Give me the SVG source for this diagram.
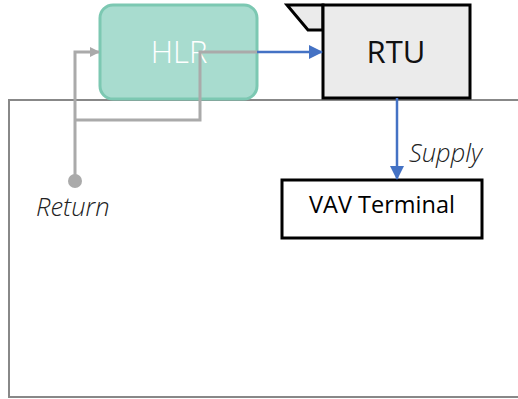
<svg xmlns="http://www.w3.org/2000/svg" width="518" height="399" viewBox="0 0 518 399">
<style>
.t{font-family:"Open Sans","Noto Sans","Liberation Sans",sans-serif}
.g{fill:none;stroke:#aaaaaa;stroke-width:3}
.b{fill:none;stroke:#4472c4;stroke-width:2.5}
.lbl{font-size:25.5px;font-style:italic;font-weight:300;fill:#222}
</style>
<defs>
<marker id="ag" markerWidth="10" markerHeight="10" refX="9" refY="5" orient="auto" markerUnits="userSpaceOnUse"><path d="M0,0 L10,5 L0,10 z" fill="#aaaaaa"/></marker>
<marker id="ab" markerWidth="14" markerHeight="14" refX="13" refY="7" orient="auto" markerUnits="userSpaceOnUse"><path d="M0,0 L14,7 L0,14 z" fill="#4472c4"/></marker>
</defs>
<rect width="518" height="399" fill="#ffffff"/>
<g id="boundary"><rect x="9" y="100" width="515" height="297" fill="none" stroke="#888888" stroke-width="2"/></g>
<g id="hlr">
<rect x="100" y="5" width="157" height="94" rx="13" fill="#a8dccf" stroke="#7cc8b2" stroke-width="3"/>
<text class="t" x="179" y="63" font-size="31" font-weight="300" fill="#ffffff" text-anchor="middle">HLR</text>
</g>
<g id="rtu">
<polygon points="287,5 323,5 323,30 308,30" fill="#ebebeb" stroke="#000" stroke-width="3" stroke-linejoin="miter"/>
<rect x="323" y="5" width="147" height="93" fill="#ebebeb" stroke="#000" stroke-width="3"/>
<text class="t" x="396" y="63" font-size="31" fill="#111" text-anchor="middle">RTU</text>
</g>
<g id="vav">
<rect x="282" y="180" width="200" height="58" fill="#ffffff" stroke="#000" stroke-width="3"/>
<text class="t" x="382" y="213" font-size="23.5" fill="#000" text-anchor="middle">VAV Terminal</text>
</g>
<g id="connectors">
<path class="g" d="M75,180 V52 H99" marker-end="url(#ag)"/>
<path class="g" d="M75,120 H200 V52 H258"/>
<path class="b" d="M257,52 H322" marker-end="url(#ab)"/>
<path class="b" d="M397,98 V179" marker-end="url(#ab)"/>
<circle cx="75" cy="181" r="7" fill="#aaaaaa"/>
</g>
<g id="labels">
<text class="t lbl" x="409" y="162">Supply</text>
<text class="t lbl" x="36" y="216">Return</text>
</g>
</svg>
